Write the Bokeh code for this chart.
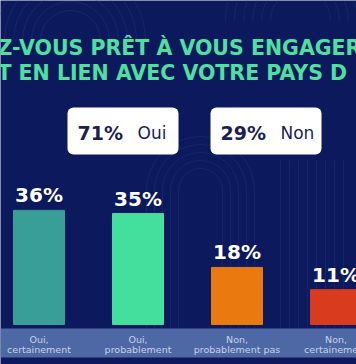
from bokeh.plotting import figure
from bokeh.models import Range1d, BoxAnnotation, Label, ColumnDataSource
from bokeh.embed import file_html
from bokeh.resources import INLINE
from bokeh.core.properties import value

# ---- data ----
categories = ["Oui,\ncertainement", "Oui,\nprobablement", "Non,\nprobablement pas", "Non,\ncertainement"]
values = [36, 35, 18, 11]
value_labels = ["36%", "35%", "18%", "11%"]
bar_colors = ["#3a9e98", "#44df9c", "#ea7a10", "#d93b1f"]
summary_values = [71, 29]
summary_names = ["Oui", "Non"]
title_lines = ["Z-VOUS PRÊT À VOUS ENGAGER", "T EN LIEN AVEC VOTRE PAYS D"]

W, H = 356, 364
# layout helpers: pixel -> data (for decorations only)
X0, XS = 38.5, 99.0          # centre of first bar, spacing in px
Y0, YS = 324.0, 3.17         # baseline px, px per percent
def px(x):
    return (x - X0) / XS
def py(y):
    return (Y0 - y) / YS

p = figure(width=W, height=H, output_backend="svg", toolbar_location=None,
           x_range=Range1d(px(0), px(W)), y_range=Range1d(py(H), py(0)),
           min_border=0, outline_line_color=None)
p.axis.visible = False
p.grid.visible = False
p.background_fill_color = "#0c1a5d"
p.border_fill_color = "#0c1a5d"

# faint decorative background lines
for k in range(6):
    r = 30 + k * 9
    p.arc(x=px(70), y=py(40), radius=r / XS, start_angle=0, end_angle=3.1416,
          line_color="#2a3f8a", line_alpha=0.35, line_width=1)
    p.arc(x=px(300), y=py(20), radius=r / XS, start_angle=0, end_angle=3.1416,
          line_color="#2a3f8a", line_alpha=0.3, line_width=1)
for k in range(8):
    xx = 280 + k * 9
    p.segment(x0=px(xx), y0=py(160), x1=px(xx), y1=py(328),
              line_color="#2a3f8a", line_alpha=0.3, line_width=1)
for k in range(5):
    r = 22 + k * 8
    p.arc(x=px(200), y=py(190), radius=r / XS, start_angle=0, end_angle=3.1416,
          line_color="#2a3f8a", line_alpha=0.3, line_width=1)
    p.segment(x0=px(200 - r), y0=py(190), x1=px(200 - r), y1=py(328),
              line_color="#2a3f8a", line_alpha=0.3, line_width=1)
    p.segment(x0=px(200 + r), y0=py(190), x1=px(200 + r), y1=py(328),
              line_color="#2a3f8a", line_alpha=0.3, line_width=1)

# bottom band (under glyphs so the category labels stay visible)
p.add_layout(BoxAnnotation(top=py(328), bottom=py(357), fill_color="#5a76b2",
                           fill_alpha=0.85, line_color=None, level="underlay"))

# title
for i, line in enumerate(title_lines):
    p.add_layout(Label(x=px(-3), y=py(47 + i * 25), text=line, text_color="#4fe0a0",
                       text_font="DejaVu Sans", text_font_style="bold",
                       text_font_size="20.5px", text_baseline="middle", text_align="left"))

# summary boxes
box_x = [(67, 178), (210, 321)]
for (x1, x2), v, name in zip(box_x, summary_values, summary_names):
    p.add_layout(BoxAnnotation(left=px(x1), right=px(x2), top=py(107), bottom=py(154),
                               fill_color="white", fill_alpha=1.0, line_color=None,
                               border_radius=6))
    p.add_layout(Label(x=px(x1 + 10), y=py(132), text=f"{v}%", text_color="#1c1f52",
                       text_font="DejaVu Sans", text_font_style="bold",
                       text_font_size="19px", text_baseline="middle", text_align="left"))
    p.add_layout(Label(x=px(x1 + 70), y=py(132), text=name, text_color="#1c1f52",
                       text_font="DejaVu Sans", text_font_size="17px",
                       text_baseline="middle", text_align="left"))

xs = list(range(len(categories)))
src = ColumnDataSource(dict(x=xs, top=values, color=bar_colors, lab=value_labels))
p.vbar(x="x", top="top", bottom=0, width=51 / XS, color="color", source=src)
p.text(x="x", y="top", text="lab", source=src, text_color="white",
       text_font=value("DejaVu Sans"), text_font_style="bold", text_font_size="20px",
       text_align="center", text_baseline="bottom", y_offset=-3)

# category labels
for i, c in enumerate(categories):
    l1, l2 = c.split("\n")
    p.text(x=[i], y=[py(339)], text=[l1], text_color="#c8d1e6",
           text_font=value("DejaVu Sans"), text_font_size="9.5px",
           text_align="center", text_baseline="middle")
    p.text(x=[i], y=[py(349)], text=[l2], text_color="#c8d1e6",
           text_font=value("DejaVu Sans"), text_font_size="9.5px",
           text_align="center", text_baseline="middle")

open("out.html", "w").write(file_html(p, INLINE))
